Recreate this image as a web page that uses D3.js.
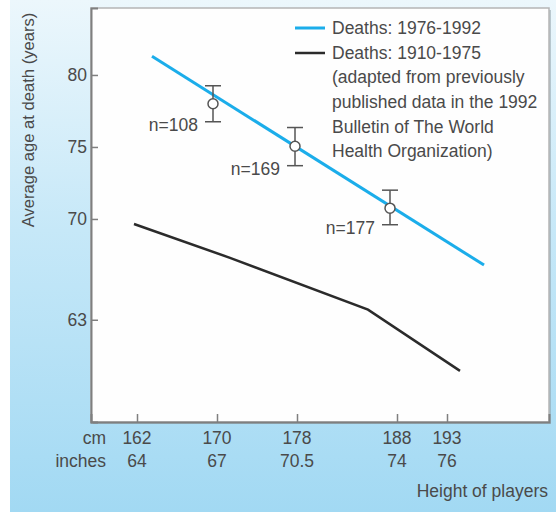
<!DOCTYPE html>
<html>
<head>
<meta charset="utf-8">
<script src="https://cdnjs.cloudflare.com/ajax/libs/d3/7.8.5/d3.min.js"></script>
<style>
  html, body { margin: 0; padding: 0; background: #fff; }
  svg text { font-family: "Liberation Sans", Arial, Helvetica, sans-serif; fill: #4a4a4a; }
</style>
</head>
<body>
<svg id="chart" width="556" height="512"></svg>
<script>
'use strict';

// tick labels
const cmTicks   = [162, 170, 178, 188, 193];
const inchTicks = ["64", "67", "70.5", "74", "76"];
const ageTicks  = [63, 70, 75, 80];

// Deaths 1976-1992 (fitted line)
const recentCm  = [163.5, 196.7];
const recentAge = [81.3, 66.8];

// Deaths 1910-1975
const olderCm  = [161.7, 171.3, 185.1, 194.3];
const olderAge = [69.65, 67.3, 63.7, 59.45];

// mean age with error bars
const pointCm   = [169.6, 177.8, 187.3];
const pointMean = [78.0, 75.05, 70.75];
const pointLow  = [76.75, 73.7, 69.6];
const pointHigh = [79.25, 76.35, 72.0];
const pointN    = [108, 169, 177];

const legendLines = [
  "Deaths: 1976-1992",
  "Deaths: 1910-1975",
  "(adapted from previously",
  "published data in the 1992",
  "Bulletin of The World",
  "Health Organization)"
];

const svg = d3.select("#chart");
const frame = {left: 91, top: 8, right: 549, bottom: 422};

const x = d3.scaleLinear().domain([157.4, 203.2]).range([frame.left, frame.right]);
const y = d3.scaleLinear().domain([55.9, 84.65]).range([frame.bottom, frame.top]);

// background
const defs = svg.append("defs");
const grad = defs.append("linearGradient")
    .attr("id", "bg").attr("x1", 0).attr("y1", 0).attr("x2", 0).attr("y2", 1);
grad.append("stop").attr("offset", "0%").attr("stop-color", "#ecf7fc");
grad.append("stop").attr("offset", "45%").attr("stop-color", "#c6e8f8");
grad.append("stop").attr("offset", "100%").attr("stop-color", "#a2d9f3");

svg.append("rect")
    .attr("x", 10).attr("y", 0)
    .attr("width", 546).attr("height", 512)
    .attr("fill", "url(#bg)");

// plot frame with a little shadow
svg.append("rect")
    .attr("x", frame.left + 2).attr("y", frame.top + 2)
    .attr("width", frame.right - frame.left).attr("height", frame.bottom - frame.top)
    .attr("fill", "#8a9aa2").attr("opacity", 0.5);
svg.append("rect")
    .attr("x", frame.left).attr("y", frame.top)
    .attr("width", frame.right - frame.left).attr("height", frame.bottom - frame.top)
    .attr("fill", "#fefefe")
    .attr("stroke", "#b5b5b5").attr("stroke-width", 1.5);

// axes
const xAxis = d3.axisTop(x).tickValues(cmTicks).tickSize(8).tickFormat("");
const gx = svg.append("g")
    .attr("transform", "translate(0," + frame.bottom + ")")
    .call(xAxis);
gx.select(".domain").attr("stroke", "#7f7f7f").attr("stroke-width", 2);
gx.selectAll(".tick line").attr("stroke", "#7f7f7f").attr("stroke-width", 1.5);

const yAxis = d3.axisRight(y).tickValues(ageTicks).tickSize(7).tickFormat("");
const gy = svg.append("g")
    .attr("transform", "translate(" + frame.left + ",0)")
    .call(yAxis);
gy.select(".domain").attr("stroke", "#7f7f7f").attr("stroke-width", 2);
gy.selectAll(".tick line").attr("stroke", "#7f7f7f").attr("stroke-width", 1.5);

// tick labels
svg.append("g").selectAll("text")
    .data(ageTicks)
  .enter().append("text")
    .attr("x", frame.left - 4)
    .attr("y", d => y(d))
    .attr("dy", "0.35em")
    .attr("text-anchor", "end")
    .style("font-size", "17.5px")
    .text(d => d);

svg.append("g").selectAll("text")
    .data(cmTicks)
  .enter().append("text")
    .attr("x", d => x(d))
    .attr("y", 438)
    .attr("dy", "0.35em")
    .attr("text-anchor", "middle")
    .style("font-size", "17.5px")
    .text(d => d);

svg.append("g").selectAll("text")
    .data(inchTicks)
  .enter().append("text")
    .attr("x", (d, i) => x(cmTicks[i]))
    .attr("y", 461)
    .attr("dy", "0.35em")
    .attr("text-anchor", "middle")
    .style("font-size", "17.5px")
    .text(d => d);

svg.append("text").attr("x", 106).attr("y", 438).attr("dy", "0.35em")
    .attr("text-anchor", "end").style("font-size", "17.5px").text("cm");
svg.append("text").attr("x", 106).attr("y", 461).attr("dy", "0.35em")
    .attr("text-anchor", "end").style("font-size", "17.5px").text("inches");

// axis titles
svg.append("text")
    .attr("transform", "translate(28,120) rotate(-90)")
    .attr("dy", "0.35em")
    .attr("text-anchor", "middle")
    .style("font-size", "16.6px")
    .text("Average age at death (years)");

svg.append("text")
    .attr("x", 548).attr("y", 491).attr("dy", "0.35em")
    .attr("text-anchor", "end")
    .style("font-size", "17.5px")
    .text("Height of players");

// lines
const line = d3.line().x(d => x(d[0])).y(d => y(d[1]));

svg.append("path")
    .datum(olderCm.map((c, i) => [c, olderAge[i]]))
    .attr("fill", "none")
    .attr("stroke", "#2b2b2b")
    .attr("stroke-width", 2.5)
    .attr("d", line);

svg.append("path")
    .datum(recentCm.map((c, i) => [c, recentAge[i]]))
    .attr("fill", "none")
    .attr("stroke", "#1badea")
    .attr("stroke-width", 3)
    .attr("d", line);

// error bars
const bars = svg.append("g").selectAll("g")
    .data(pointCm.map((c, i) => ({cm: c, mean: pointMean[i], lo: pointLow[i], hi: pointHigh[i], n: pointN[i]})))
  .enter().append("g");

bars.append("line")
    .attr("x1", d => x(d.cm)).attr("x2", d => x(d.cm))
    .attr("y1", d => y(d.hi)).attr("y2", d => y(d.lo))
    .attr("stroke", "#555").attr("stroke-width", 1.5);
bars.append("line")
    .attr("x1", d => x(d.cm) - 8).attr("x2", d => x(d.cm) + 8)
    .attr("y1", d => y(d.hi)).attr("y2", d => y(d.hi))
    .attr("stroke", "#555").attr("stroke-width", 1.5);
bars.append("line")
    .attr("x1", d => x(d.cm) - 8).attr("x2", d => x(d.cm) + 8)
    .attr("y1", d => y(d.lo)).attr("y2", d => y(d.lo))
    .attr("stroke", "#555").attr("stroke-width", 1.5);
bars.append("circle")
    .attr("cx", d => x(d.cm)).attr("cy", d => y(d.mean))
    .attr("r", 5)
    .attr("fill", "#fff")
    .attr("stroke", "#555").attr("stroke-width", 1.5);
bars.append("text")
    .attr("x", d => x(d.cm) - 15)
    .attr("y", d => y(d.lo) + 3)
    .attr("dy", "0.35em")
    .attr("text-anchor", "end")
    .style("font-size", "17.5px")
    .text(d => "n=" + d.n);

// legend
const legend = svg.append("g");
legend.append("line").attr("x1", 295).attr("x2", 325).attr("y1", 28).attr("y2", 28)
    .attr("stroke", "#1badea").attr("stroke-width", 3);
legend.append("line").attr("x1", 295).attr("x2", 325).attr("y1", 53).attr("y2", 53)
    .attr("stroke", "#2b2b2b").attr("stroke-width", 2.5);
legend.selectAll("text")
    .data(legendLines)
  .enter().append("text")
    .attr("x", 332)
    .attr("y", (d, i) => 28 + i * 24.6)
    .attr("dy", "0.35em")
    .style("font-size", "17.5px")
    .text(d => d);
</script>
</body>
</html>
